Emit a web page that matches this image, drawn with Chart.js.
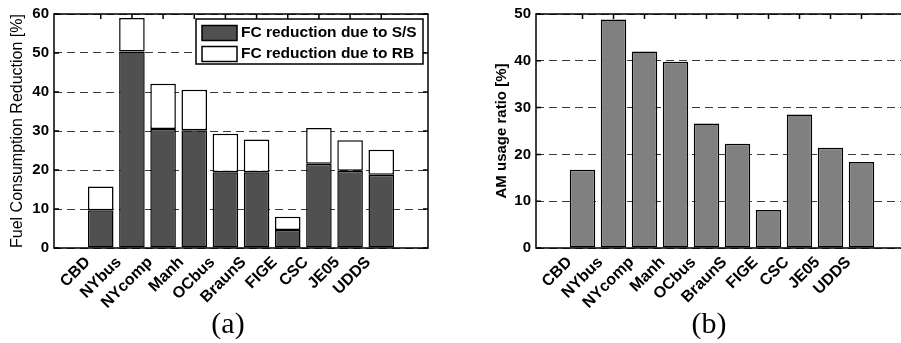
<!DOCTYPE html>
<html>
<head>
<meta charset="utf-8">
<script src="https://cdn.jsdelivr.net/npm/chart.js@4"></script>
<style>
  html, body { margin: 0; padding: 0; background: #fff; overflow: hidden; }
  #page { position: relative; width: 901px; height: 343px; overflow: hidden; }
  .plot { position: absolute; top: 0; height: 343px; }
  .caption { position: absolute; top: 305px; width: 100px; text-align: center;
             font: 30px "Liberation Serif", "DejaVu Serif", serif; line-height: 36px; color: #000; }
</style>
</head>
<body>
<div id="page">
  <div class="plot" style="left:0;width:450px"><canvas id="fcChart" width="450" height="343"></canvas></div>
  <div class="plot" style="left:450px;width:480px"><canvas id="amChart" width="480" height="343"></canvas></div>
  <div class="caption" style="left:178px">(a)</div>
  <div class="caption" style="left:659px">(b)</div>
</div>
<script>
const cycles = ['CBD', 'NYbus', 'NYcomp', 'Manh', 'OCbus', 'BraunS', 'FIGE', 'CSC', 'JE05', 'UDDS'];
const fcStopStart = [9.7, 50.4, 30.5, 30.2, 19.4, 19.4, 4.6, 21.6, 19.8, 18.8];
const fcRegenBraking = [6.1, 8.6, 11.6, 10.4, 9.9, 8.4, 3.4, 9.2, 7.8, 6.4];
const amUsageRatio = [16.7, 48.8, 42.0, 39.8, 26.6, 22.3, 8.1, 28.5, 21.4, 18.4];

Chart.defaults.font.family = '"Liberation Sans", Arial, sans-serif';
Chart.defaults.color = '#000';

// bars sit at x = 1..10 on a 0..11 axis, like the matlab figure
const toPoints = (vals) => vals.map((v, i) => ({ x: i + 1, y: v }));

// axes box + inward tick marks (no bottom ticks, they vanish under the bars)
const frame = {
  id: 'frame',
  afterDraw(chart) {
    const { ctx, chartArea: a, scales: { x, y } } = chart;
    ctx.save();
    ctx.strokeStyle = '#000';
    ctx.lineWidth = 1.5;
    ctx.beginPath();
    y.ticks.forEach(t => {
      const py = y.getPixelForValue(t.value);
      ctx.moveTo(a.left, py); ctx.lineTo(a.left + 5, py);
      ctx.moveTo(a.right, py); ctx.lineTo(a.right - 5, py);
    });
    cycles.forEach((c, i) => {
      const px = x.getPixelForValue(i + 1);
      ctx.moveTo(px, a.top); ctx.lineTo(px, a.top + 5);
    });
    ctx.stroke();
    ctx.strokeRect(a.left, a.top, a.right - a.left, a.bottom - a.top);
    ctx.restore();
  }
};

// boxed legend inside the top right corner
const boxLegend = {
  id: 'boxLegend',
  afterDatasetsDraw(chart) {
    const { ctx, chartArea: a } = chart;
    const w = 227, h = 45;
    const left = a.right - 5 - w, top = a.top + 5;
    ctx.save();
    ctx.fillStyle = '#fff';
    ctx.fillRect(left, top, w, h);
    ctx.lineWidth = 1.5;
    ctx.strokeStyle = '#000';
    ctx.strokeRect(left, top, w, h);
    ctx.font = 'bold 15.5px "Liberation Sans", Arial, sans-serif';
    ctx.textBaseline = 'middle';
    chart.data.datasets.forEach((ds, i) => {
      const cy = top + 14 + i * 21;
      ctx.fillStyle = ds.backgroundColor;
      ctx.fillRect(left + 6, cy - 7.5, 35, 15);
      ctx.strokeRect(left + 6, cy - 7.5, 35, 15);
      ctx.fillStyle = '#000';
      ctx.fillText(ds.label, left + 45, cy);
    });
    ctx.restore();
  }
};

function xAxis(height) {
  return {
    type: 'linear',
    min: 0,
    max: 11,
    stacked: true,
    afterFit: (s) => { s.height = height; },
    grid: { display: false },
    border: { display: false },
    ticks: {
      stepSize: 1,
      autoSkip: false,
      minRotation: 45,
      maxRotation: 45,
      padding: -3,
      labelOffset: -13,
      font: { size: 16, weight: 'bold' },
      callback: (v) => cycles[v - 1] || ''
    }
  };
}

function yAxis(max, width, title) {
  return {
    min: 0,
    max: max,
    stacked: true,
    afterFit: (s) => { s.width = width; },
    grid: { color: '#3a3a3a', lineWidth: 1, drawTicks: false },
    border: { display: false, dash: [8, 5] },
    ticks: { stepSize: 10, padding: 5, font: { size: 15, weight: 'bold' } },
    title: title
  };
}

new Chart(document.getElementById('fcChart'), {
  type: 'bar',
  data: {
    datasets: [{
      label: 'FC reduction due to S/S',
      data: toPoints(fcStopStart),
      backgroundColor: '#505050',
      borderColor: '#000',
      borderWidth: 1.5,
      borderSkipped: false,
      categoryPercentage: 1,
      barPercentage: 0.82
    }, {
      label: 'FC reduction due to RB',
      data: toPoints(fcRegenBraking),
      backgroundColor: '#ffffff',
      borderColor: '#000',
      borderWidth: 1.5,
      borderSkipped: false,
      categoryPercentage: 1,
      barPercentage: 0.82
    }]
  },
  options: {
    responsive: false,
    animation: false,
    layout: { padding: { left: 8, top: 12, right: 22, bottom: 0 } },
    plugins: { legend: { display: false }, tooltip: { enabled: false } },
    scales: {
      x: xAxis(95),
      y: yAxis(60, 46, {
        display: true,
        text: 'Fuel Consumption Reduction [%]',
        padding: 0,
        font: { size: 16, weight: 'normal' }
      })
    }
  },
  plugins: [boxLegend, frame]
});

new Chart(document.getElementById('amChart'), {
  type: 'bar',
  data: {
    datasets: [{
      label: 'AM usage ratio',
      data: toPoints(amUsageRatio),
      backgroundColor: '#808080',
      borderColor: '#000',
      borderWidth: 1.5,
      borderSkipped: false,
      categoryPercentage: 1,
      barPercentage: 0.82
    }]
  },
  options: {
    responsive: false,
    animation: false,
    layout: { padding: { left: 43, top: 12, right: 22, bottom: 0 } },
    plugins: { legend: { display: false }, tooltip: { enabled: false } },
    scales: {
      x: xAxis(95),
      y: yAxis(50, 43, {
        display: true,
        text: 'AM usage ratio [%]',
        padding: 0,
        font: { size: 15, weight: 'bold' }
      })
    }
  },
  plugins: [frame]
});
</script>
</body>
</html>
